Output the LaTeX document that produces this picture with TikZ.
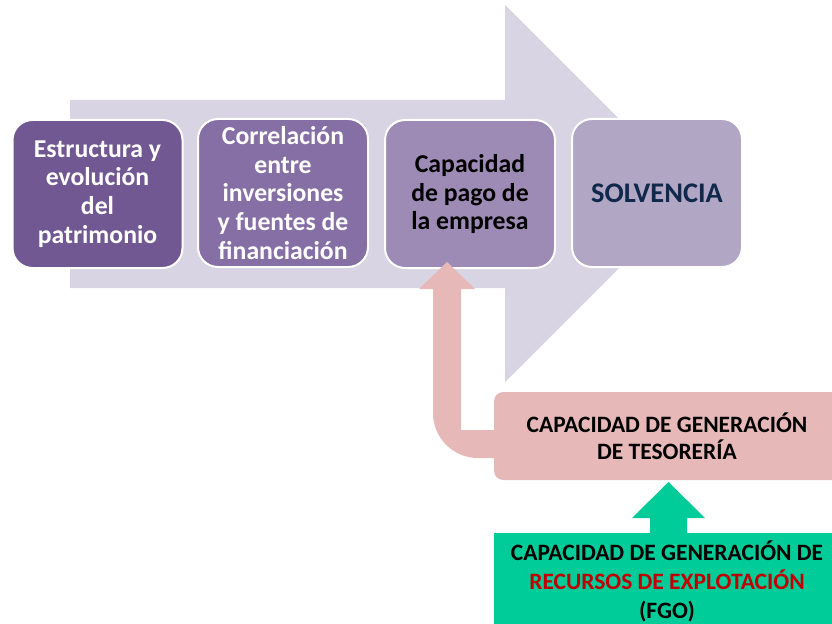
\documentclass[tikz,border=0pt]{standalone}
\usepackage{fontspec}
\setmainfont{Carlito}
\definecolor{bigarr}{RGB}{216,212,228}
\definecolor{boxA}{RGB}{114,88,146}
\definecolor{boxB}{RGB}{134,111,164}
\definecolor{boxC}{RGB}{157,139,181}
\definecolor{boxD}{RGB}{178,166,197}
\definecolor{pinkc}{RGB}{230,185,184}
\definecolor{greenc}{RGB}{0,204,153}
\definecolor{navyc}{RGB}{15,40,75}
\definecolor{redc}{RGB}{192,0,0}
\begin{document}
\begin{tikzpicture}[x=0.75pt,y=-0.75pt,
  stepbox/.style={draw=white,line width=1.5pt,rounded corners=15pt,
    minimum width=127.5pt,minimum height=111pt,align=center,inner sep=0pt,
    font=\fontsize{19.3}{21.5}\selectfont\bfseries},
  tagbox/.style={fill=pinkc,rounded corners=7pt,minimum width=259.5pt,
    minimum height=66pt,align=center,inner sep=0pt,
    font=\fontsize{17.6}{20.3}\selectfont\bfseries},
  fgobox/.style={fill=greenc,minimum width=259.5pt,
    align=center,inner sep=0pt,
    font=\fontsize{17.6}{21.8}\selectfont\bfseries}]
\useasboundingbox (0,0) rectangle (832,624);
\clip (0,0) rectangle (832,624);
% big background arrow
\fill[bigarr] (70,100) -- (505,100) -- (505,5) -- (693.5,193.5) -- (505,382)
  -- (505,288) -- (70,288) -- cycle;
% step boxes
\node[stepbox,fill=boxA,text=white] (b1) at (97.5,194) {Estructura y\\evolución\\del\\patrimonio};
\node[stepbox,fill=boxB,text=white] (b2) at (283,193) {Correlación\\entre\\inversiones\\y fuentes de\\financiación};
\node[stepbox,fill=boxC,text=black] (b3) at (470,194) {Capacidad\\de pago de\\la empresa};
\node[stepbox,fill=boxD,text=navyc,font=\fontsize{21.3}{24}\selectfont\bfseries] (b4) at (657,193) {SOLVENCIA};
% pink bent arrow
\fill[pinkc] (447,262) -- (475,289) -- (461,289) -- (461,430) -- (500,430)
  -- (500,458) -- (478,458) .. controls (453.1,458) and (433,437.9) .. (433,413)
  -- (433,289) -- (419,289) -- cycle;
% tesoreria box
\node[tagbox] (tes) at (667,436) {CAPACIDAD DE GENERACIÓN\\DE TESORERÍA};
% green arrow
\fill[greenc] (668.5,482) -- (705,518) -- (687,518) -- (687,540) -- (650,540)
  -- (650,518) -- (632,518) -- cycle;
% FGO box
\fill[greenc] (494,533) rectangle (840,640);
\node[fgobox,fill=none] (fgo) at (667,581) {CAPACIDAD DE GENERACIÓN DE\\\textcolor{redc}{RECURSOS DE EXPLOTACIÓN}\\(FGO)};
\end{tikzpicture}
\end{document}
